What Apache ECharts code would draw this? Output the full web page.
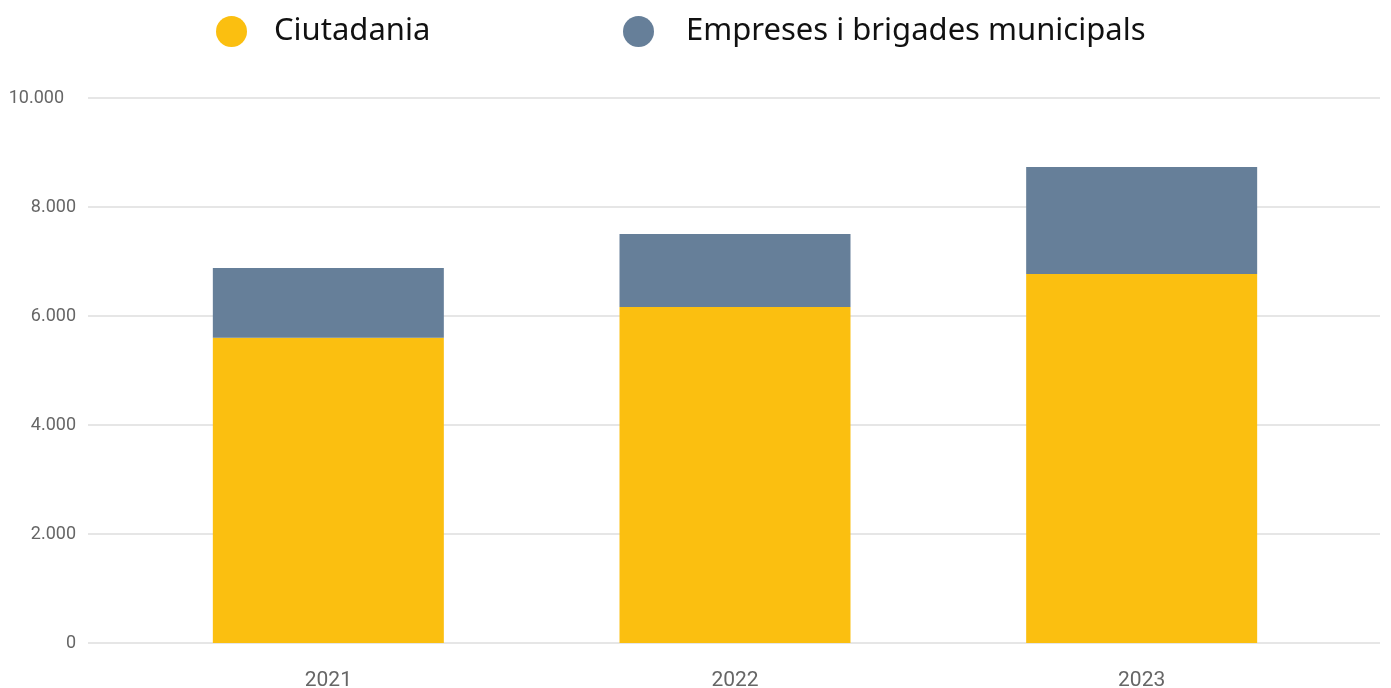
<!DOCTYPE html>
<html>
<head>
<meta charset="utf-8">
<script src="https://cdn.jsdelivr.net/npm/echarts@6/dist/echarts.min.js"></script>
<style>
html,body{margin:0;padding:0;background:#fff;}
#chart{width:1391px;height:688px;}
</style>
</head>
<body>
<div id="chart"></div>
<script>
const categories = ['2021', '2022', '2023'];
const seriesNames = ['Ciutadania', 'Empreses i brigades municipals'];
const ciutadania = [5600, 6165, 6770];
const empreses = [1280, 1340, 1965];
const yTicks = [0, 2000, 4000, 6000, 8000, 10000];

const YELLOW = '#fbbf10';
const BLUE = '#667f99';

function fmt(v) {
  return String(v).replace(/\B(?=(\d{3})+(?!\d))/g, '.');
}

const chart = echarts.init(document.getElementById('chart'), null, {renderer: 'canvas'});
const legendText = {fontFamily: 'Noto Sans', fontSize: 31, color: '#111'};
chart.setOption({
  animation: false,
  legend: [
    {
      left: 211, top: 11, icon: 'circle', itemWidth: 31, itemHeight: 31,
      data: [seriesNames[0]],
      textStyle: Object.assign({padding: [0, 0, 0, 22]}, legendText)
    },
    {
      left: 618, top: 11, icon: 'circle', itemWidth: 31, itemHeight: 31,
      data: [seriesNames[1]],
      textStyle: Object.assign({padding: [0, 0, 0, 27]}, legendText)
    }
  ],
  grid: [
    {left: 88, right: 11, top: 98, bottom: 45, outerBoundsMode: 'none', containLabel: false},
    {left: 125, right: 46, top: 98, bottom: 45, outerBoundsMode: 'none', containLabel: false}
  ],
  xAxis: [
    {gridIndex: 0, type: 'value', show: false, min: 0, max: 1},
    {
      gridIndex: 1, type: 'category', data: categories,
      axisLine: {show: false}, axisTick: {show: false},
      axisLabel: {fontFamily: 'Roboto', fontSize: 21, color: '#666', margin: 27}
    }
  ],
  yAxis: [
    {
      gridIndex: 0, type: 'value', min: yTicks[0], max: yTicks[yTicks.length - 1], interval: 2000,
      axisLine: {show: false}, axisTick: {show: false},
      splitLine: {lineStyle: {color: '#e6e6e6', width: 2}},
      axisLabel: {
        fontFamily: 'Roboto', fontSize: 18, color: '#666', margin: 12,
        formatter: function (v) {
          return v === yTicks[yTicks.length - 1] ? '{t|' + fmt(v) + '}' : fmt(v);
        },
        rich: {t: {fontFamily: 'Roboto', fontSize: 18, color: '#666', padding: [0, 12, 0, 0]}}
      }
    },
    {gridIndex: 1, type: 'value', min: yTicks[0], max: yTicks[yTicks.length - 1], interval: 2000, show: false, splitLine: {show: false}}
  ],
  series: [
    {
      name: seriesNames[0], type: 'bar', stack: 'total', xAxisIndex: 1, yAxisIndex: 1,
      barWidth: 231, data: ciutadania, itemStyle: {color: YELLOW}
    },
    {
      name: seriesNames[1], type: 'bar', stack: 'total', xAxisIndex: 1, yAxisIndex: 1,
      barWidth: 231, data: empreses, itemStyle: {color: BLUE}
    }
  ]
});
</script>
</body>
</html>
